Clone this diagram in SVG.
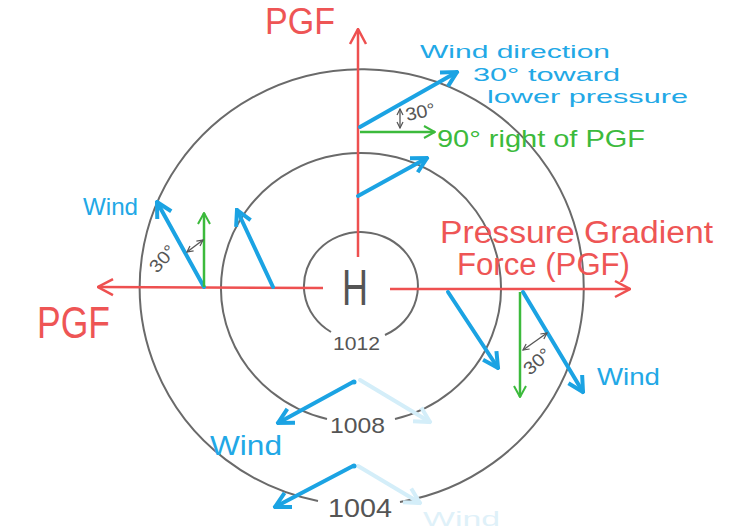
<svg xmlns="http://www.w3.org/2000/svg" width="737" height="529" viewBox="0 0 737 529">
<defs>
<style>
.t{font-family:"Liberation Sans","DejaVu Sans",sans-serif;}
.red{fill:#ee5555}
.blue{fill:#22a8e6}
.green{fill:#3cba3c}
.gray{fill:#555555}
.iso{fill:none;stroke:#6a6a6a;stroke-width:2}
.rl{fill:none;stroke:#ee5050;stroke-width:2.5;marker-end:url(#mr)}
.bl{fill:none;stroke:#1ba3e3;stroke-width:4;stroke-linecap:round;marker-end:url(#mb)}
.fl{fill:none;stroke:#d4eef9;stroke-width:4;stroke-linecap:round;marker-end:url(#mf)}
.gl{fill:none;stroke:#3cba3c;stroke-width:2.5;marker-end:url(#mg)}
.dl{fill:none;stroke:#555;stroke-width:1.3;marker-start:url(#md);marker-end:url(#md)}
</style>
<marker id="mr" viewBox="0 0 20 20" refX="19" refY="10" markerWidth="20" markerHeight="20" markerUnits="userSpaceOnUse" orient="auto"><path d="M4,2 L19,10 L4,18" fill="none" stroke="#ee5050" stroke-width="2.5"/></marker>
<marker id="mb" viewBox="0 0 20 20" refX="18" refY="10" markerWidth="20" markerHeight="20" markerUnits="userSpaceOnUse" orient="auto"><path d="M3,2 L18,10 L3,18" fill="none" stroke="#1ba3e3" stroke-width="4"/></marker>
<marker id="mf" viewBox="0 0 20 20" refX="18" refY="10" markerWidth="20" markerHeight="20" markerUnits="userSpaceOnUse" orient="auto"><path d="M3,2 L18,10 L3,18" fill="none" stroke="#d4eef9" stroke-width="4"/></marker>
<marker id="mg" viewBox="0 0 14 14" refX="13" refY="7" markerWidth="14" markerHeight="14" markerUnits="userSpaceOnUse" orient="auto"><path d="M2,1 L13,7 L2,13" fill="none" stroke="#3cba3c" stroke-width="2"/></marker>
<marker id="md" viewBox="0 0 8 8" refX="7" refY="4" markerWidth="8" markerHeight="8" markerUnits="userSpaceOnUse" orient="auto-start-reverse"><path d="M1,1 L7,4 L1,7" fill="none" stroke="#555" stroke-width="1.2"/></marker>
</defs>
<rect width="737" height="529" fill="#ffffff"/>

<g id="isobar-1004">
<path class="iso" d="M400 502 A222 218 0 1 0 318 501"/>
<text class="t gray" x="328" y="517" font-size="26" textLength="64" lengthAdjust="spacingAndGlyphs">1004</text>
</g>
<g id="isobar-1008">
<path class="iso" d="M395 419 A140 135 0 1 0 327 419"/>
<text class="t gray" x="330" y="433" font-size="22" textLength="55" lengthAdjust="spacingAndGlyphs">1008</text>
</g>
<g id="isobar-1012">
<path class="iso" d="M385 335 A57 54 0 1 0 331 332"/>
<text class="t gray" x="333" y="350" font-size="19" textLength="47" lengthAdjust="spacingAndGlyphs">1012</text>
</g>
<g id="high">
<text class="t gray" x="342" y="305" font-size="50" textLength="26" lengthAdjust="spacingAndGlyphs">H</text>
</g>

<g id="connectors">
<path class="rl" d="M358 257 L358 29"/>
<path class="rl" d="M323 288 L98 287"/>
<path class="rl" d="M390 289 L630 289"/>
<path class="fl" d="M360 380 L430 422"/>
<path class="fl" d="M358 466 L420 503"/>
<path class="bl" d="M360 127 L457 72"/>
<path class="bl" d="M358 196 L427 158"/>
<path class="bl" d="M204 287 L157 202"/>
<path class="bl" d="M273 287 L237 210"/>
<path class="bl" d="M448 292 L498 368"/>
<path class="bl" d="M523 292 L583 392"/>
<path class="bl" d="M353 382 L278 423"/>
<path class="bl" d="M353 466 L275 507"/>
<circle cx="354" cy="382" r="2.5" fill="#1ba3e3"/>
<circle cx="354" cy="466" r="2.5" fill="#1ba3e3"/>
<path class="gl" d="M360 132 L435 132"/>
<path class="gl" d="M204 287 L204 213"/>
<path class="gl" d="M520 292 L520 397"/>
<path class="dl" d="M400 109 L400 128"/>
<path class="dl" d="M187 252 L203 240"/>
<path class="dl" d="M523 350 L547 333"/>
</g>

<g id="label-pgf-top"><text class="t red" x="265" y="34" font-size="36" textLength="70" lengthAdjust="spacingAndGlyphs">PGF</text></g>
<g id="label-pgf-left"><text class="t red" x="37" y="338" font-size="44" textLength="73" lengthAdjust="spacingAndGlyphs">PGF</text></g>
<g id="label-pgf-right">
<text class="t red" x="440" y="243" font-size="31" textLength="273" lengthAdjust="spacingAndGlyphs">Pressure Gradient</text>
<text class="t red" x="457" y="275" font-size="31" textLength="173" lengthAdjust="spacingAndGlyphs">Force (PGF)</text>
</g>
<g id="label-wind-direction">
<text class="t blue" x="420" y="58" font-size="18.5" textLength="190" lengthAdjust="spacingAndGlyphs">Wind direction</text>
<text class="t blue" x="473" y="81" font-size="18.5" textLength="147" lengthAdjust="spacingAndGlyphs">30° toward</text>
<text class="t blue" x="487" y="103" font-size="18.5" textLength="201" lengthAdjust="spacingAndGlyphs">lower pressure</text>
</g>
<g id="label-90"><text class="t green" x="437" y="147" font-size="24" textLength="208" lengthAdjust="spacingAndGlyphs">90° right of PGF</text></g>
<g id="label-30-top"><text class="t gray" x="407" y="121" font-size="18" textLength="30" lengthAdjust="spacingAndGlyphs" transform="rotate(-12 407 121)">30°</text></g>
<g id="label-30-left"><text class="t gray" x="157" y="274" font-size="18" textLength="30" lengthAdjust="spacingAndGlyphs" transform="rotate(-48 157 274)">30°</text></g>
<g id="label-30-right"><text class="t gray" x="530" y="376" font-size="18" textLength="30" lengthAdjust="spacingAndGlyphs" transform="rotate(-42 530 376)">30°</text></g>
<g id="label-wind-left"><text class="t blue" x="83" y="215" font-size="24" textLength="55" lengthAdjust="spacingAndGlyphs">Wind</text></g>
<g id="label-wind-right"><text class="t blue" x="597" y="385" font-size="24" textLength="63" lengthAdjust="spacingAndGlyphs">Wind</text></g>
<g id="label-wind-bottom"><text class="t blue" x="210" y="455" font-size="28" textLength="72" lengthAdjust="spacingAndGlyphs">Wind</text></g>
<g id="label-wind-faint"><text class="t" fill="#dff1f9" x="423" y="526" font-size="21" textLength="77" lengthAdjust="spacingAndGlyphs">Wind</text></g>
</svg>
